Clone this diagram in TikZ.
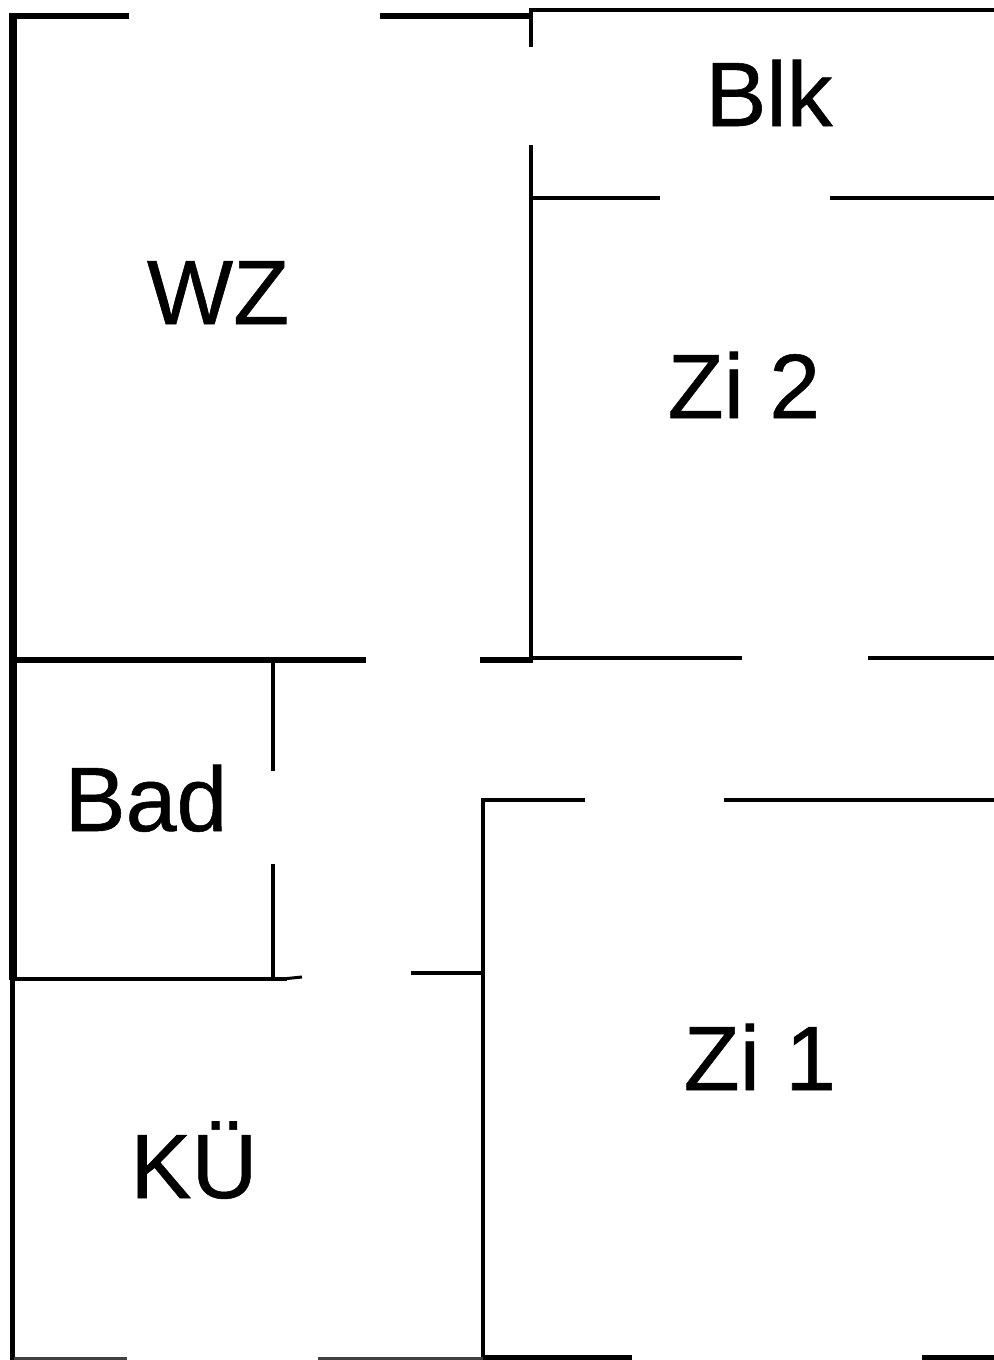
\documentclass[tikz,border=0pt]{standalone}
\usepackage{fontspec}
\setmainfont{Liberation Sans}[BoldFont=Liberation Sans, BoldFeatures={FakeBold=0.6}]
\tikzset{
    wall/.style={black, line width=0.04cm},
    heavywall/.style={black, line width=0.06cm},
    outerwall/.style={black, line width=0.08cm},
    roomlabel/.style={anchor=base, inner sep=0pt, font=\fontsize{26pt}{30pt}\selectfont\bfseries},
}
\begin{document}
\begin{tikzpicture}[x=0.01cm, y=-0.01cm]
    \useasboundingbox[fill=white] (0,0) rectangle (994,1360);
    % outer walls
    \draw[outerwall] (13,13) -- (13,980);
    \draw[line width=0.05cm] (12.5,980) -- (12.5,1360);
    \draw[heavywall] (10,16) -- (129,16);
    \draw[heavywall] (380,16) -- (533,16);
    \draw[wall] (529,10) -- (994,10);
    \draw[wall] (531,10) -- (531,47);
    \draw[wall] (531,145) -- (531,660);
    % Blk
    \draw[wall] (531,198) -- (660,198);
    \draw[wall] (830,198) -- (994,198);
    % Zi 2 and WZ
    \draw[heavywall] (14,660) -- (366,660);
    \draw[heavywall] (480,660) -- (533,660);
    \draw[wall] (531,657.5) -- (742,657.5);
    \draw[wall] (868,657.5) -- (994,657.5);
    % Bad
    \draw[wall] (273,660) -- (273,771);
    \draw[wall] (273,864) -- (273,980);
    \draw[wall] (14,979) -- (287,979);
    \draw[line width=0.03cm] (287,978.5) -- (302,977);
    % Zi 1
    \draw[wall] (483,1360) -- (483,800) -- (585,800);
    \draw[wall] (724,800) -- (994,800);
    \draw[wall] (411,973) -- (483,973);
    % bottom edge
    \draw[wall, black!75] (14,1358.5) -- (127,1358.5);
    \draw[wall, black!75] (318,1358.5) -- (483,1358.5);
    \draw[line width=0.05cm] (483,1357.5) -- (632,1357.5);
    \draw[line width=0.05cm] (922,1357.5) -- (994,1357.5);
    % rooms
    \node[roomlabel] (blk) at (769,126) {Blk};
    \node[roomlabel] (wz) at (218,324) {WZ};
    \node[roomlabel] (zi2) at (744,418) {Zi 2};
    \node[roomlabel] (bad) at (146,831) {Bad};
    \node[roomlabel] (zi1) at (760,1090) {Zi 1};
    \node[roomlabel] (kue) at (194,1198) {KÜ};
\end{tikzpicture}
\end{document}
